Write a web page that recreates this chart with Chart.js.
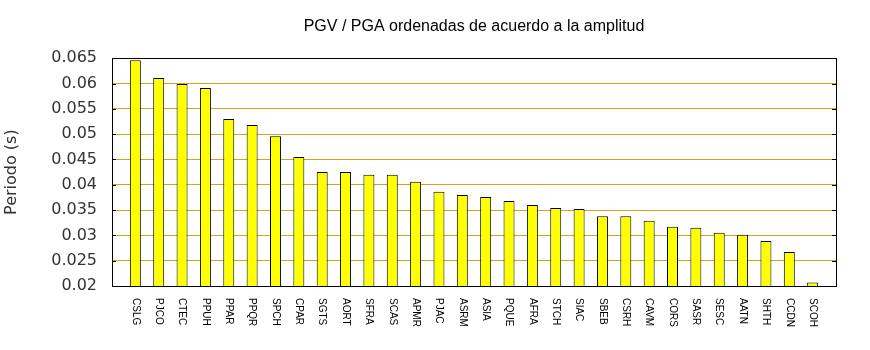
<!DOCTYPE html>
<html>
<head>
<meta charset="utf-8">
<script src="https://cdn.jsdelivr.net/npm/chart.js@4/dist/chart.umd.min.js"></script>
<style>
  html, body { margin: 0; padding: 0; background: #fff; }
  #wrap { width: 870px; height: 350px; }
</style>
</head>
<body>
<div id="wrap"><canvas id="pgvChart"></canvas></div>
<script>
// Estaciones ordenadas de acuerdo a la amplitud
const stations = ["CSLG", "PJCO", "CTEC", "PPUH", "PPAR", "PPQR", "SPCH", "CPAR", "SGTS", "AORT",
                  "SFRA", "SCAS", "APMR", "PJAC", "ASRM", "ASIA", "PQUE", "AFRA", "STCH", "SIAC",
                  "SBEB", "CSRH", "CAVM", "CORS", "SASR", "SESC", "AATN", "SHTH", "CCDN", "SCOH"];

// Periodo PGV / PGA (s)
const periods = [0.0646, 0.0611, 0.0599, 0.0591, 0.0530, 0.0518, 0.0496, 0.0455, 0.0425, 0.0425,
                 0.0420, 0.0420, 0.0406, 0.0386, 0.0380, 0.0376, 0.0368, 0.0360, 0.0354, 0.0352,
                 0.0338, 0.0338, 0.0329, 0.0317, 0.0315, 0.0305, 0.0301, 0.0289, 0.0267, 0.0207];

// Y tick labels
const yTicks = [0.02, 0.025, 0.03, 0.035, 0.04, 0.045, 0.05, 0.055, 0.06, 0.065];

const gridColor = "#d9a21b";

// Frame around the plot area plus small inward tick marks (gnuplot style)
const framePlugin = {
    id: "frame",
    afterDatasetsDraw(chart) {
        const { ctx, chartArea } = chart;
        const yScale = chart.scales.y;
        ctx.save();
        ctx.strokeStyle = "#000";
        ctx.lineWidth = 1;
        yTicks.forEach((v) => {
            const y = Math.round(yScale.getPixelForValue(v)) + 0.5;
            ctx.beginPath();
            ctx.moveTo(chartArea.left, y);
            ctx.lineTo(chartArea.left + 4, y);
            ctx.moveTo(chartArea.right, y);
            ctx.lineTo(chartArea.right - 4, y);
            ctx.stroke();
        });
        ctx.strokeRect(Math.round(chartArea.left) + 0.5, Math.round(chartArea.top) + 0.5,
            Math.round(chartArea.right - chartArea.left), Math.round(chartArea.bottom - chartArea.top));
        ctx.restore();
    },
};

// Station names, rotated clockwise under each bar
const stationLabels = {
    id: "stationLabels",
    afterDraw(chart) {
        const { ctx, chartArea } = chart;
        const xScale = chart.scales.x;
        ctx.save();
        ctx.fillStyle = "#000";
        ctx.font = "10px 'Liberation Sans', Arial, sans-serif";
        ctx.textAlign = "left";
        ctx.textBaseline = "middle";
        stations.forEach((name, i) => {
            const x = xScale.getPixelForValue(i + 1);
            ctx.save();
            ctx.translate(x, chartArea.bottom + 12);
            ctx.rotate(Math.PI / 2);
            ctx.fillText(name, 0, 0);
            ctx.restore();
        });
        ctx.restore();
    },
};

const ctx = document.getElementById("pgvChart").getContext("2d");
new Chart(ctx, {
    type: "bar",
    data: {
        datasets: [
            {
                label: "Periodo",
                data: periods.map((p, i) => ({ x: i + 1, y: p })),
                backgroundColor: "#ffff00",
                borderColor: "#000",
                borderWidth: 1,
                borderSkipped: false,
                categoryPercentage: 1,
                barPercentage: 0.47,
            },
        ],
    },
    options: {
        responsive: true,
        maintainAspectRatio: false,
        animation: false,
        layout: { padding: { left: 0, right: 34, top: 0, bottom: 0 } },
        plugins: {
            legend: { display: false },
            tooltip: { enabled: false },
            title: {
                display: true,
                text: "PGV / PGA ordenadas de acuerdo a la amplitud",
                fullSize: false,
                color: "#000",
                font: { family: "'Liberation Sans', Arial, sans-serif", size: 16, weight: "normal" },
                padding: { top: 17, bottom: 22 },
            },
        },
        scales: {
            x: {
                type: "linear",
                min: 0,
                max: 31,
                offset: false,
                ticks: { display: false, stepSize: 1 },
                grid: { display: false },
                border: { display: false },
                afterFit: (scale) => { scale.height = 64; },
            },
            y: {
                min: 0.02,
                max: 0.065,
                afterBuildTicks: (scale) => { scale.ticks = yTicks.map((v) => ({ value: v })); },
                ticks: {
                    padding: 15,
                    color: "#333",
                    font: { family: "'DejaVu Sans', sans-serif", size: 16 },
                    callback: (v) => parseFloat(v.toFixed(3)).toString(),
                },
                grid: { color: gridColor, lineWidth: 1, drawTicks: false },
                border: { display: false },
                title: {
                    display: true,
                    text: "Periodo (s)",
                    color: "#333",
                    font: { family: "'DejaVu Sans', sans-serif", size: 16 },
                    padding: { top: 2, bottom: 0 },
                },
                afterFit: (scale) => { scale.width = 112; },
            },
        },
    },
    plugins: [framePlugin, stationLabels],
});
</script>
</body>
</html>
